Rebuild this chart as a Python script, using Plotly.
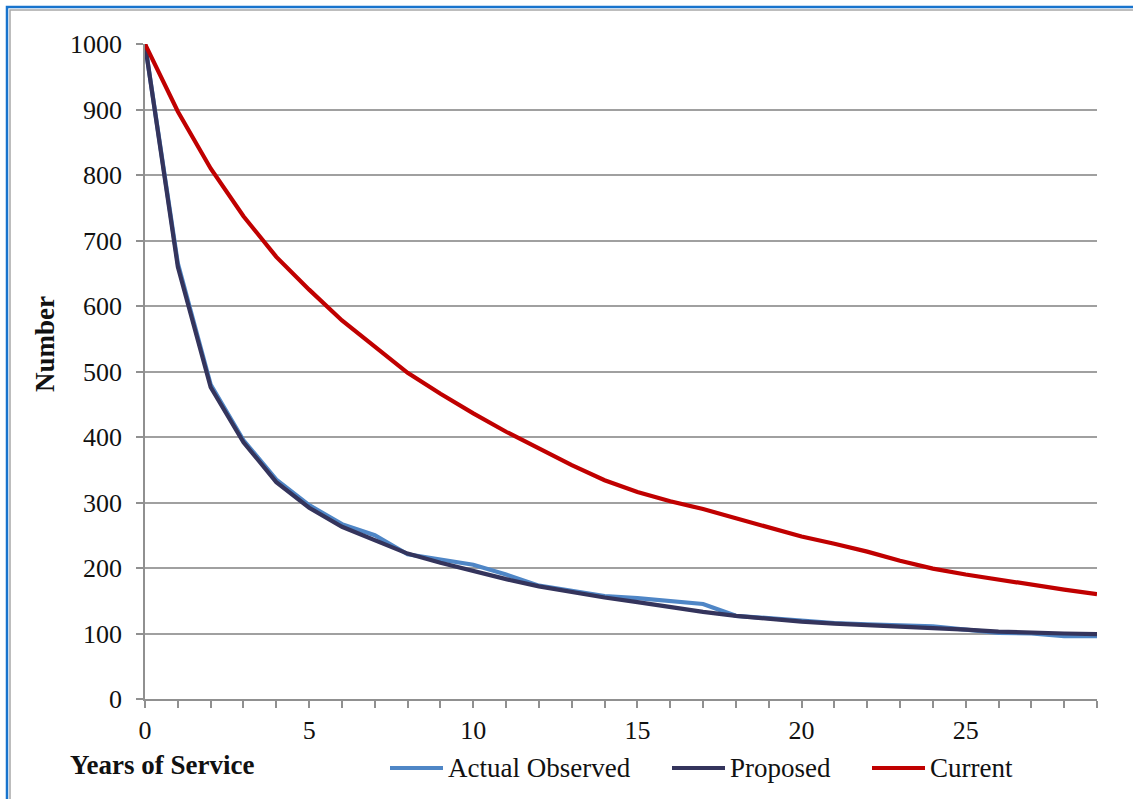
import plotly.graph_objects as go

years = list(range(0, 30))
actual_observed = [1000, 665, 480, 395, 335, 296, 267, 250, 221, 213, 205, 190, 173, 165, 157,
                   154, 150, 145, 127, 123, 119, 116, 114, 112, 111, 106, 101, 100, 96, 96]
proposed = [1000, 660, 476, 392, 331, 292, 263, 243, 222, 208, 195, 183, 172, 163, 155,
            148, 140, 133, 127, 122, 118, 115, 113, 111, 109, 106, 103, 101, 100, 99]
current = [1000, 897, 810, 737, 675, 625, 578, 537, 498, 466, 436, 408, 382, 357, 334,
           316, 302, 290, 276, 262, 248, 237, 225, 211, 199, 190, 182, 174, 167, 160]

series_names = ["Actual Observed", "Proposed", "Current"]
series_colors = ["#4F86C6", "#34345C", "#C00000"]
series_values = [actual_observed, proposed, current]

y_ticks = list(range(0, 1001, 100))
x_ticks = [0, 5, 10, 15, 20, 25]

FONT = "Liberation Serif"

fig = go.Figure()
for name, col, vals in zip(series_names, series_colors, series_values):
    fig.add_trace(go.Scatter(x=years, y=vals, mode="lines", name=name,
                             line=dict(color=col, width=4.2), showlegend=False))

W, H = 1133, 799
L, R, T, B = 145, 36, 44, 100
pw, ph = W - L - R, H - T - B

def px(xp):
    return (xp - L) / pw

def py(yp):
    return (H - B - yp) / ph

shapes = []
shapes.append(dict(type="rect", xref="paper", yref="paper",
                   x0=px(7), x1=px(1145), y0=py(7), y1=py(812),
                   line=dict(color="#1874CD", width=2.5), fillcolor="rgba(0,0,0,0)", layer="above"))
shapes.append(dict(type="rect", xref="paper", yref="paper",
                   x0=px(10), x1=px(1142), y0=py(10), y1=py(809),
                   line=dict(color="#A8A8A8", width=1.5), fillcolor="rgba(0,0,0,0)", layer="above"))

annotations = []
leg_y = py(768)
key_starts = [390, 672, 872]
for name, col, ks in zip(series_names, series_colors, key_starts):
    shapes.append(dict(type="line", xref="paper", yref="paper",
                       x0=px(ks), x1=px(ks + 53), y0=leg_y, y1=leg_y,
                       line=dict(color=col, width=4)))
    annotations.append(dict(xref="paper", yref="paper", x=px(ks + 56), y=leg_y,
                            text=name, showarrow=False, xanchor="left", yanchor="middle",
                            font=dict(family=FONT, size=27, color="#111111")))

annotations.append(dict(xref="paper", yref="paper", x=px(68), y=py(765),
                        text="<b>Years of Service</b>", showarrow=False,
                        xanchor="left", yanchor="middle",
                        font=dict(family=FONT, size=27, color="#111111")))
annotations.append(dict(xref="paper", yref="paper", x=px(45), y=py(344),
                        text="<b>Number</b>", showarrow=False, textangle=-90,
                        xanchor="center", yanchor="middle",
                        font=dict(family=FONT, size=27, color="#111111")))

fig.update_layout(
    width=W, height=H,
    margin=dict(l=L, r=R, t=T, b=B),
    paper_bgcolor="white", plot_bgcolor="white",
    font=dict(family=FONT, size=26, color="#111111"),
    shapes=shapes, annotations=annotations,
    showlegend=False,
)
fig.update_xaxes(range=[0, 29], tickvals=x_ticks, ticktext=[str(v) for v in x_ticks],
                 showgrid=False, zeroline=False,
                 showline=True, linecolor="#909090", linewidth=1.5,
                 ticks="outside", ticklen=7, tickwidth=1.5, tickcolor="#909090",
                 minor=dict(dtick=1, tick0=0, ticks="outside", ticklen=7, tickwidth=1.5,
                            tickcolor="#909090", showgrid=False),
                 tickfont=dict(family=FONT, size=26, color="#111111"))
fig.update_yaxes(range=[0, 1000], tickvals=y_ticks, ticktext=[str(v) for v in y_ticks],
                 showgrid=True, gridcolor="#A0A0A0", gridwidth=1.5,
                 zeroline=False, showline=True, linecolor="#909090", linewidth=1.5,
                 ticks="outside", ticklen=7, tickwidth=1.5, tickcolor="#909090",
                 ticklabelstandoff=9,
                 tickfont=dict(family=FONT, size=26, color="#111111"))

fig.write_html("out.html", config={"displayModeBar": False},
               post_script="document.body.style.margin='0';document.body.style.overflow='hidden';")
